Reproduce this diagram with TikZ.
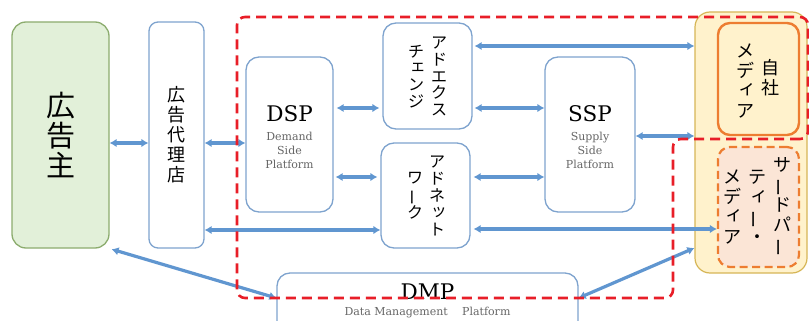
\documentclass[tikz,border=0pt]{standalone}
\usepackage{fontspec}
\usepackage{graphicx}
\newfontfamily\jp{Noto Sans CJK JP}
\newfontfamily\lat{DejaVu Serif}
\usetikzlibrary{arrows.meta}
\definecolor{greenfill}{RGB}{226,240,217}
\definecolor{greenborder}{RGB}{140,172,110}
\definecolor{boxblue}{RGB}{126,163,206}
\definecolor{arrblue}{RGB}{96,150,208}
\definecolor{mediafill}{RGB}{255,242,204}
\definecolor{mediaborder}{RGB}{214,182,86}
\definecolor{ownorange}{RGB}{237,125,49}
\definecolor{peach}{RGB}{251,229,214}
\definecolor{dashred}{RGB}{232,30,40}
\newcommand\sk[1]{\makebox[1em][l]{\hspace*{0.12em}\raisebox{0.14em}{#1}}}
\newcommand\chon{\rotatebox[origin=c]{90}{ー}}
\tikzset{
  gbox/.style={draw=greenborder, fill=greenfill, rounded corners=14pt, line width=1.3pt, align=center, inner sep=0pt},
  bbox/.style={draw=boxblue, fill=white, rounded corners=13pt, line width=1.3pt, align=center, inner sep=0pt},
  mbox/.style={draw=mediaborder, fill=mediafill, rounded corners=15pt, line width=1.2pt, inner sep=0pt},
  obox/.style={draw=ownorange, fill=mediafill, rounded corners=12pt, line width=2.4pt, inner sep=0pt},
  tbox/.style={draw=ownorange, fill=peach, rounded corners=12pt, line width=2.2pt, dash pattern=on 8pt off 4.5pt, inner sep=0pt},
  vtxt/.style={align=center, inner sep=0pt, font=\jp\fontsize{16}{16.8}\selectfont},
  mtxt/.style={align=center, inner sep=0pt, font=\jp\fontsize{18}{20}\selectfont},
  bigtxt/.style={inner sep=0pt, font=\lat\fontsize{21.5}{24}\selectfont},
  smtxt/.style={align=center, inner sep=0pt, text=black!60, font=\lat\fontsize{11}{14}\selectfont},
  arr/.style={draw=arrblue, line width=3.2pt, >={Latex[length=7pt,width=8.5pt]}, <->},
  reddash/.style={draw=dashred, line width=2.6pt, dash pattern=on 10pt off 6pt, rounded corners=8pt}
}
\begin{document}
\begin{tikzpicture}[x=1pt,y=-1pt]
\useasboundingbox (0,0) rectangle (809,321);

% advertiser and agency
\node[gbox, minimum width=97pt, minimum height=226pt, font=\jp\fontsize{29}{30}\selectfont] (adv) at (60.5,135) {広\\告\\主};
\node[bbox, minimum width=55pt, minimum height=226pt, rounded corners=9pt, font=\jp\fontsize{18}{20}\selectfont] (agency) at (176.5,135) {広\\告\\代\\理\\店};

% DSP
\node[bbox, minimum width=87pt, minimum height=155pt] (dsp) at (289.5,134.5) {};
\node[bigtxt] (dspt) at (289.5,114) {DSP};
\node[smtxt] (dsps) at (289.5,150) {Demand\\Side\\Platform};

% Ad exchange
\node[bbox, minimum width=89pt, minimum height=106pt] (adx) at (427.5,76) {};
\node[vtxt] (adx1) at (439,76.5) {ア\\ド\\エ\\ク\\ス};
\node[vtxt] (adx2) at (416,76.5) {チ\\\sk{ェ}\\ン\\ジ};

% Ad network
\node[bbox, minimum width=89pt, minimum height=105pt] (adn) at (425.5,195.5) {};
\node[vtxt] (adn1) at (437,196) {ア\\ド\\ネ\\\sk{ッ}\\ト};
\node[vtxt] (adn2) at (415,196) {ワ\\\chon\\ク};

% SSP
\node[bbox, minimum width=90pt, minimum height=155pt] (ssp) at (590,134.5) {};
\node[bigtxt] (sspt) at (590,114) {SSP};
\node[smtxt] (ssps) at (590,150) {Supply\\Side\\Platform};

% DMP
\node[bbox, minimum width=301pt, minimum height=70pt] (dmp) at (427.5,308) {};
\node[bigtxt] (dmpt) at (427.5,292) {DMP};
\node[smtxt] (dmps) at (427.5,313) {Data Management\hspace{1.3em}Platform};

% media
\node[mbox, minimum width=112pt, minimum height=261pt] (media) at (751,142.5) {};
\node[obox, minimum width=81pt, minimum height=112pt] (own) at (758.5,79) {};
\node[mtxt] (own1) at (770,78) {自\\社};
\node[mtxt] (own2) at (745,80.5) {メ\\デ\\\sk{ィ}\\ア};
\node[tbox, minimum width=81pt, minimum height=120pt] (third) at (758.5,207) {};
\node[mtxt] (th1) at (782,207) {サ\\\chon\\ド\\パ\\\chon};
\node[mtxt] (th2) at (757,207) {テ\\\sk{ィ}\\\chon\\・};
\node[mtxt] (th3) at (732,207) {メ\\デ\\\sk{ィ}\\ア};

% arrows
\draw[arr] (adv.east |- 0,143) -- (agency.west |- 0,143);
\draw[arr] (agency.east |- 0,143) -- (dsp.west |- 0,143);
\draw[arr, shorten <=3pt, shorten >=3pt] (dsp.east |- 0,108) -- (adx.west |- 0,108);
\draw[arr, shorten <=2pt, shorten >=3pt] (dsp.east |- 0,177) -- (adn.west |- 0,177);
\draw[arr] (agency.east |- 0,230) -- (adn.west |- 0,230);
\draw[arr, shorten <=2pt] (adx.east |- 0,46) -- (media.west |- 0,46);
\draw[arr, shorten <=2pt] (adx.east |- 0,108) -- (ssp.west |- 0,108);
\draw[arr, shorten <=3pt] (adn.east |- 0,177) -- (ssp.west |- 0,177);
\draw[arr] (ssp.east |- 0,136) -- (media.west |- 0,136);
\draw[arr, shorten <=3pt] (adn.east |- 0,229) -- (third.west |- 0,229);
\draw[arr, shorten <=2pt] (adv.south east) -- (dmp.west |- 0,298);
\draw[arr] (dmp.east |- 0,298) -- (media.west |- 0,248);

% red dashed region
\draw[reddash] (808,139) -- (673,139) -- (673,298) -- (237,298) -- (237,17) -- (808,17) -- cycle;
\end{tikzpicture}
\end{document}
